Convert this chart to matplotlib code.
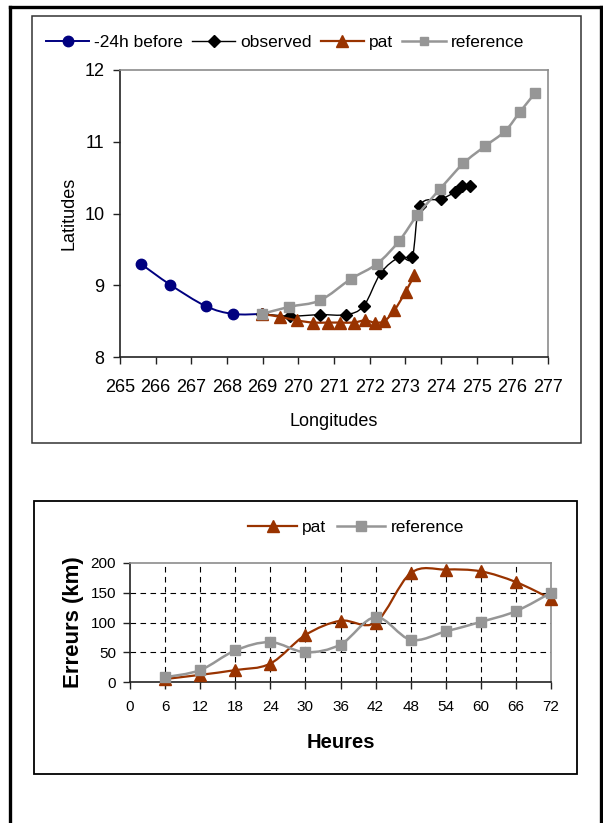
import numpy as np
import matplotlib
matplotlib.use("Agg")
import matplotlib.pyplot as plt
from matplotlib.path import Path
from matplotlib.patches import PathPatch, Rectangle
from matplotlib.lines import Line2D

plt.rcParams['font.family'] = ['Liberation Sans', 'DejaVu Sans']

# ---- top chart: tracks ----
before_lon = [265.58, 266.40, 267.40, 268.17, 268.98]
before_lat = [9.30, 9.01, 8.71, 8.60, 8.60]

obs_lon = [268.98, 269.77, 270.61, 271.33, 271.83, 272.31, 272.83, 273.19, 273.41, 274.00, 274.39, 274.59, 274.82]
obs_lat = [8.60, 8.57, 8.59, 8.59, 8.71, 9.17, 9.39, 9.39, 10.11, 10.20, 10.30, 10.39, 10.39]

pat_lon = [268.98, 269.49, 269.96, 270.41, 270.82, 271.17, 271.55, 271.87, 272.15, 272.41, 272.69, 273.01, 273.25]
pat_lat = [8.60, 8.56, 8.51, 8.48, 8.48, 8.48, 8.48, 8.51, 8.48, 8.50, 8.65, 8.91, 9.14]

ref_lon = [268.98, 269.75, 270.61, 271.48, 272.21, 272.83, 273.34, 273.97, 274.63, 275.24, 275.80, 276.22, 276.64]
ref_lat = [8.60, 8.70, 8.79, 9.09, 9.30, 9.62, 9.98, 10.34, 10.70, 10.94, 11.15, 11.42, 11.68]

# ---- bottom chart: errors ----
hours = [6, 12, 18, 24, 30, 36, 42, 48, 54, 60, 66, 72]
pat_err = [5, 12, 20, 31, 79, 103, 100, 183, 189, 186, 168, 140]
ref_err = [8, 20, 53, 67, 50, 63, 109, 71, 85, 101, 119, 150]

W, H = 603, 823
fig = plt.figure(figsize=(W / 100, H / 100), dpi=100)


def fx(px):
    return px / W


def fy(py):
    return 1 - py / H


def smooth(ax, xs, ys, color, lw, z):
    # excel-like smoothed line (bezier through the points, in screen space)
    x0, x1 = ax.get_xlim()
    y0, y1 = ax.get_ylim()
    bb = ax.get_position()
    sw, sh = bb.width * W, bb.height * H
    u = (np.asarray(xs) - x0) / (x1 - x0) * sw
    v = (np.asarray(ys) - y0) / (y1 - y0) * sh
    p = np.column_stack([u, v])
    n = len(p)
    verts = [p[0]]
    codes = [Path.MOVETO]
    for i in range(n - 1):
        a = p[i - 1] if i > 0 else p[i]
        b = p[i]
        c = p[i + 1]
        d = p[i + 2] if i + 2 < n else p[i + 1]
        verts += [b + (c - a) / 6, c - (d - b) / 6, c]
        codes += [Path.CURVE4] * 3
    verts = np.array(verts)
    verts[:, 0] = verts[:, 0] / sw * (x1 - x0) + x0
    verts[:, 1] = verts[:, 1] / sh * (y1 - y0) + y0
    ax.add_patch(PathPatch(Path(verts, codes), fill=False, edgecolor=color,
                           lw=lw, zorder=z, clip_on=False))


def style_axes(ax):
    for s in ['top', 'right']:
        ax.spines[s].set_color('#8c8c8c')
        ax.spines[s].set_linewidth(1.2)
    for s in ['left', 'bottom']:
        ax.spines[s].set_color('#222222')
        ax.spines[s].set_linewidth(1.2)


# outer page frame
for seg in [((10, 10), (823, 7)), ((10, 601), (7, 7)), ((601, 601), (7, 823))]:
    fig.add_artist(Line2D([fx(seg[0][0]), fx(seg[0][1])], [fy(seg[1][0]), fy(seg[1][1])],
                          transform=fig.transFigure, color='black', lw=2.4))
fig.add_artist(Rectangle((fx(32), fy(443)), fx(581) - fx(32), fy(16) - fy(443),
                         transform=fig.transFigure, fill=False, ec='#333333', lw=1.1))
fig.add_artist(Rectangle((fx(34), fy(774)), fx(577) - fx(34), fy(501) - fy(774),
                         transform=fig.transFigure, fill=False, ec='black', lw=1.3))

# ---------- top ----------
ax1 = fig.add_axes([fx(120), fy(357), fx(548) - fx(120), fy(70) - fy(357)])
ax1.set_xlim(265, 277)
ax1.set_ylim(8, 12)
style_axes(ax1)
ax1.set_xticks(range(265, 278))
ax1.set_yticks(range(8, 13))
ax1.tick_params(direction='out', length=5, width=1, labelsize=13, color='#222222')
ax1.tick_params(axis='x', pad=11)
ax1.tick_params(axis='y', pad=6)

blue, brown, grey = '#000080', '#993300', '#969696'
smooth(ax1, before_lon, before_lat, blue, 1.4, 2)
ax1.plot(before_lon, before_lat, 'o', color=blue, ms=7.5, zorder=2.1, clip_on=False)
smooth(ax1, obs_lon, obs_lat, 'black', 1.0, 3)
ax1.plot(obs_lon, obs_lat, 'D', color='black', ms=6.5, zorder=3.1, clip_on=False)
smooth(ax1, pat_lon, pat_lat, brown, 1.6, 4)
ax1.plot(pat_lon, pat_lat, '^', color=brown, ms=8.5, zorder=4.1, clip_on=False)
smooth(ax1, ref_lon, ref_lat, grey, 1.8, 5)
ax1.plot(ref_lon, ref_lat, 's', color=grey, ms=7.5, zorder=5.1, clip_on=False)

ax1.set_xlabel('Longitudes', fontsize=13, labelpad=12)
ax1.set_ylabel('Latitudes', fontsize=13, labelpad=5)

h1 = [Line2D([], [], color=blue, lw=1.4, marker='o', ms=7.5),
      Line2D([], [], color='black', lw=1.0, marker='D', ms=6),
      Line2D([], [], color=brown, lw=1.6, marker='^', ms=8),
      Line2D([], [], color=grey, lw=1.8, marker='s', ms=6)]
fig.legend(h1, ['-24h before', 'observed', 'pat', 'reference'], loc='center',
           bbox_to_anchor=(fx(285), fy(42.7)), ncol=4, frameon=False,
           fontsize=12.5, handlelength=2.5, handletextpad=0.3, columnspacing=0.5)

# ---------- bottom ----------
ax2 = fig.add_axes([fx(130), fy(682), fx(551) - fx(130), fy(563) - fy(682)])
ax2.set_xlim(0, 72)
ax2.set_ylim(0, 200)
style_axes(ax2)
ax2.set_xticks(range(0, 73, 6))
ax2.set_yticks(range(0, 201, 50))
ax2.tick_params(direction='out', length=5, width=1, labelsize=11, color='#222222')
ax2.tick_params(axis='x', pad=8)
ax2.tick_params(axis='y', pad=5)
for h in hours[:-1]:
    ax2.axvline(h, color='black', lw=0.8, dashes=(5, 4), zorder=1)
for v in [50, 100, 150]:
    ax2.axhline(v, color='black', lw=0.8, dashes=(5, 4), zorder=1)

smooth(ax2, hours, pat_err, brown, 1.6, 3)
ax2.plot(hours, pat_err, '^', color=brown, ms=8.5, zorder=3.1, clip_on=False)
smooth(ax2, hours, ref_err, grey, 1.8, 4)
ax2.plot(hours, ref_err, 's', color=grey, ms=7.5, zorder=4.1, clip_on=False)

ax2.set_xlabel('Heures', fontsize=14.5, fontweight='bold', labelpad=14)
ax2.set_ylabel('Erreurs (km)', fontsize=16, fontweight='bold', labelpad=5)

h2 = [Line2D([], [], color=brown, lw=1.6, marker='^', ms=8.5),
      Line2D([], [], color=grey, lw=1.8, marker='s', ms=6.5)]
fig.legend(h2, ['pat', 'reference'], loc='center', bbox_to_anchor=(fx(356), fy(527)),
           ncol=2, frameon=False, fontsize=12.5, handlelength=2.8,
           handletextpad=0.3, columnspacing=0.6)

fig.savefig('out.png', dpi=100)
